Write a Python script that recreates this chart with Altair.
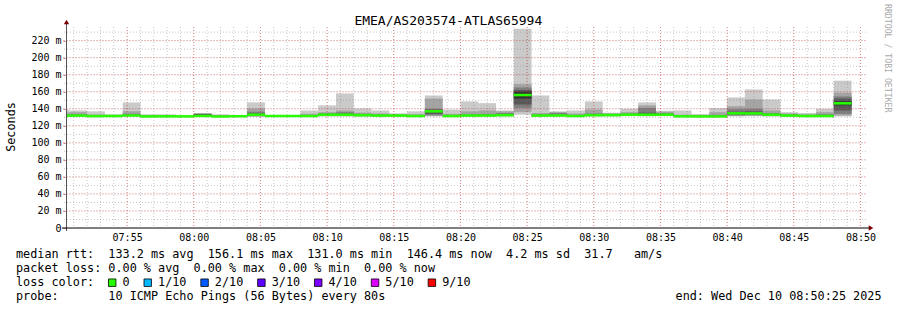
import altair as alt
import pandas as pd

# ---------------- text content ----------------
TITLE = "EMEA/AS203574-ATLAS65994"
Y_TITLE = "Seconds"
WATERMARK = "RRDTOOL / TOBI OETIKER"

# ---------------- time axis (seconds after 07:50:25, window is 3600 s) ----------------
WINDOW = 3600
STEP = 80                 # one probe round every 80 s
FIRST_STEP_START = -65    # 07:49:20, first (partly visible) round
x_tick_labels = ["07:55", "08:00", "08:05", "08:10", "08:15", "08:20",
                 "08:25", "08:30", "08:35", "08:40", "08:45", "08:50"]
y_tick_values = [0, 20, 40, 60, 80, 100, 120, 140, 160, 180, 200, 220]

# ---------------- sorted ping RTTs (ms) of each 80 s round, rank 1 (fastest) .. 10 ----------------
rtt_1 = [130.8, 130.9, 130.6, 130.8, 130.9, 130.4, 130.5, 130.6, 130.8, 130.4, 130.6, 130.8, 130.9, 130.9, 130.8,
         131.0, 131.0, 130.8, 130.8, 130.9, 130.7, 130.9, 130.8, 130.9, 130.9, 131.0, 133.0, 130.9, 131.0, 130.8,
         131.0, 131.0, 131.3, 131.0, 131.3, 130.5, 130.3, 130.3, 131.0, 131.2, 131.0, 130.8, 130.7, 130.7, 131.0]
rtt_2 = [131.0, 131.1, 130.8, 130.9, 131.1, 130.5, 130.6, 130.7, 131.0, 130.5, 130.7, 131.0, 131.0, 131.0, 131.0,
         131.4, 131.3, 131.1, 131.0, 131.1, 130.9, 131.5, 131.0, 131.1, 131.1, 131.3, 136.0, 131.1, 131.2, 131.0,
         131.3, 131.4, 131.7, 131.5, 131.7, 130.6, 130.4, 130.4, 131.5, 131.8, 131.4, 131.1, 130.9, 130.9, 132.0]
rtt_3 = [131.2, 131.3, 131.0, 131.1, 131.4, 130.7, 130.8, 130.8, 131.2, 130.7, 130.8, 131.3, 131.1, 131.1, 131.2,
         131.8, 131.8, 131.5, 131.3, 131.3, 131.1, 132.5, 131.1, 131.4, 131.4, 131.6, 141.0, 131.4, 131.5, 131.2,
         131.7, 131.8, 132.1, 132.0, 132.1, 130.8, 130.6, 130.6, 132.3, 132.5, 131.8, 131.4, 131.1, 131.1, 134.0]
rtt_4 = [131.5, 131.6, 131.2, 131.3, 131.7, 130.8, 130.9, 130.9, 131.4, 130.8, 130.9, 131.6, 131.3, 131.3, 131.3,
         132.3, 132.3, 131.9, 131.6, 131.6, 131.3, 134.0, 131.3, 131.7, 131.7, 132.0, 145.0, 131.7, 131.8, 131.3,
         132.0, 132.2, 132.5, 132.4, 132.5, 130.9, 130.8, 130.8, 133.0, 133.3, 132.3, 131.7, 131.3, 131.3, 138.0]
rtt_5 = [131.8, 131.8, 131.3, 131.4, 131.9, 130.9, 131.0, 131.0, 131.5, 130.9, 131.0, 132.6, 131.4, 131.4, 131.4,
         132.7, 132.8, 132.3, 131.9, 131.9, 131.4, 136.5, 131.4, 131.9, 131.9, 132.3, 152.0, 131.9, 132.0, 131.4,
         132.3, 132.4, 132.8, 132.8, 132.8, 131.0, 130.9, 130.9, 134.0, 134.0, 132.7, 131.9, 131.4, 131.4, 144.0]
rtt_6 = [132.0, 132.1, 131.5, 131.6, 132.2, 131.1, 131.2, 131.1, 131.7, 131.1, 131.2, 133.4, 131.6, 131.6, 131.6,
         133.3, 133.2, 132.7, 132.1, 132.1, 131.6, 137.5, 131.6, 132.2, 132.2, 132.7, 160.2, 132.2, 132.2, 131.6,
         132.7, 132.8, 133.2, 133.2, 133.2, 131.2, 131.1, 131.1, 135.2, 135.0, 133.3, 132.1, 131.6, 131.6, 148.8]
rtt_7 = [132.4, 132.6, 131.8, 131.8, 132.8, 131.4, 131.5, 131.3, 133.8, 131.4, 131.4, 134.5, 131.7, 131.8, 131.9,
         133.9, 134.2, 133.2, 132.5, 132.4, 131.9, 139.0, 131.9, 132.6, 132.7, 133.5, 162.0, 132.6, 132.6, 131.9,
         133.3, 133.2, 133.6, 135.4, 133.8, 131.5, 131.4, 131.5, 136.5, 137.0, 133.9, 132.5, 131.9, 132.0, 152.0]
rtt_8 = [133.2, 133.5, 132.3, 132.1, 134.0, 131.9, 132.0, 131.5, 134.2, 131.9, 131.7, 136.5, 131.9, 132.0, 132.5,
         134.6, 136.0, 134.0, 133.0, 132.9, 132.4, 140.0, 132.4, 133.5, 134.0, 135.0, 165.0, 133.3, 135.0, 132.6,
         134.5, 133.8, 134.4, 141.0, 135.0, 132.0, 131.9, 132.8, 139.5, 140.0, 135.0, 133.2, 132.5, 133.5, 154.5]
rtt_9 = [135.5, 136.0, 133.2, 132.6, 137.0, 132.6, 132.7, 131.8, 134.5, 132.6, 132.1, 140.4, 132.2, 132.3, 134.0,
         136.0, 138.0, 135.5, 134.5, 133.6, 133.5, 152.0, 134.0, 137.0, 138.0, 137.0, 169.0, 135.0, 136.0, 134.5,
         139.0, 134.6, 136.0, 144.0, 136.5, 133.0, 132.6, 136.0, 143.0, 151.0, 138.0, 134.5, 133.5, 136.0, 159.0]
rtt_10 = [139.0, 138.0, 137.0, 133.5, 147.5, 133.5, 133.5, 132.0, 134.6, 133.5, 132.5, 147.5, 132.5, 132.6, 138.0,
          144.0, 158.0, 140.4, 138.0, 134.6, 137.0, 155.6, 139.0, 148.6, 146.6, 138.0, 234.0, 155.6, 137.0, 138.0,
          148.6, 135.4, 140.0, 147.5, 137.7, 138.0, 133.8, 140.8, 153.3, 162.7, 151.0, 136.0, 135.0, 140.0, 173.0]
# packet loss per round (0.00 % max over the window -> no loss anywhere)
loss = [0] * 45

ranks = [rtt_1, rtt_2, rtt_3, rtt_4, rtt_5, rtt_6, rtt_7, rtt_8, rtt_9, rtt_10]
for r in ranks:
    assert len(r) == 45, len(r)

# ---------------- legend / stats text ----------------
stats_rtt = "median rtt:  133.2 ms avg  156.1 ms max  131.0 ms min  146.4 ms now  4.2 ms sd  31.7   am/s"
stats_loss = "packet loss: 0.00 % avg  0.00 % max  0.00 % min  0.00 % now"
loss_labels = ["0", "1/10", "2/10", "3/10", "4/10", "5/10", "9/10"]
loss_colors = ["#26ff00", "#00b8ff", "#0059ff", "#5e00ff", "#7e00ff", "#dd00ff", "#ff0000"]
probe_text = "probe:       10 ICMP Echo Pings (56 Bytes) every 80s"
end_text = "end: Wed Dec 10 08:50:25 2025"

# ---------------- layout constants ----------------
PAD_L, PAD_T, W, H = 66, 27, 800, 201
PAD_R, PAD_B = 897 - PAD_L - W, 310 - PAD_T - H
Y_MAX = 236
MONO = "DejaVu Sans Mono"
FOOT_FS = 11.8
CW = 0.60205 * FOOT_FS           # monospace advance
FOOT_X = 16 - PAD_L
FOOT_BASE = [258.4 - PAD_T, 272.3 - PAD_T, 286.2 - PAD_T, 300.1 - PAD_T]
GREYS = ["#cacaca", "#a4a4a4", "#7e7e7e", "#585858", "#323232"]
NBSP = "\u00a0"

def keep_spaces(s):
    return s.replace(" ", NBSP)

xs = alt.Scale(domain=[0, WINDOW], nice=False, zero=False)
ys = alt.Scale(domain=[0, Y_MAX], nice=False)

# ---------------- smoke table ----------------
rows, med_rows = [], []
for i in range(45):
    t0 = FIRST_STEP_START + STEP * i
    t1 = t0 + STEP
    for k in range(5):
        rows.append({"t0": t0, "t1": t1, "lo": ranks[k][i], "hi": ranks[9 - k][i], "band": k})
    med = (rtt_5[i] + rtt_6[i]) / 2
    med_rows.append({"t0": t0, "t1": t1, "lo": med - 1.5, "hi": med + 1.5,
                     "loss": loss_labels[min(loss[i], 6)]})
smoke_df = pd.DataFrame(rows)
med_df = pd.DataFrame(med_rows)

tick_vals = []
for lab in x_tick_labels:
    hh, mm = lab.split(":")
    tick_vals.append((int(hh) * 3600 + int(mm) * 60) - (7 * 3600 + 50 * 60 + 25))
label_arr = "[" + ",".join("'%s'" % s for s in x_tick_labels) + "]"
x_label_expr = "%s[round((datum.value - %d) / 300)]" % (label_arr, tick_vals[0])

XAX = alt.Axis(values=tick_vals, labelExpr=x_label_expr, grid=False, domain=False, ticks=False,
               title=None, labelFont=MONO, labelFontSize=10, labelColor="#000000", labelPadding=4,
               labelOverlap=False, labelFlush=False)
YAX = alt.Axis(values=y_tick_values, labelExpr="datum.value == 0 ? '0' : datum.value + '" + NBSP + "m'",
               grid=False, domain=False, ticks=True, tickSize=3, tickColor="#e09090", title=None,
               labelFont=MONO, labelFontSize=10, labelColor="#000000", labelPadding=2)

smoke = alt.Chart(smoke_df).mark_rect(clip=True).encode(
    x=alt.X("t0:Q", scale=xs, axis=XAX, title=None),
    x2="t1:Q",
    y=alt.Y("lo:Q", scale=ys, axis=YAX, title=None),
    y2="hi:Q",
    color=alt.Color("band:O", scale=alt.Scale(domain=[0, 1, 2, 3, 4], range=GREYS), legend=None),
    order=alt.Order("band:Q"),
)

median = alt.Chart(med_df).mark_rect(clip=True).encode(
    x=alt.X("t0:Q", scale=xs, axis=XAX, title=None), x2="t1:Q",
    y=alt.Y("lo:Q", scale=ys, axis=YAX, title=None), y2="hi:Q",
    color=alt.Color("loss:N", scale=alt.Scale(domain=loss_labels, range=loss_colors), legend=None),
)

# grid (drawn on top, semi transparent like rrdtool)
minor_x = pd.DataFrame({"t0": [35 + 60 * j for j in range(60)]})
major_x = pd.DataFrame({"t0": tick_vals})
minor_y = pd.DataFrame({"lo": [10 * j for j in range(1, 24)]})
major_y = pd.DataFrame({"lo": y_tick_values[1:]})

def vgrid(df, color, op):
    return alt.Chart(df).mark_rule(strokeDash=[1, 2], color=color, opacity=op, strokeWidth=1).encode(
        x=alt.X("t0:Q", scale=xs, axis=XAX, title=None), y=alt.value(0), y2=alt.value(H))

def hgrid(df, color, op, x0):
    return alt.Chart(df).mark_rule(strokeDash=[1, 2], color=color, opacity=op, strokeWidth=1).encode(
        y=alt.Y("lo:Q", scale=ys, axis=YAX, title=None), x=alt.value(x0), x2=alt.value(W))

grid = [vgrid(minor_x, "#808080", 0.45), hgrid(minor_y, "#808080", 0.45, -2),
        vgrid(major_x, "#ff0000", 0.35), hgrid(major_y, "#ff0000", 0.35, -3)]

one = alt.Data(values=[{"a": 1}])
y_axis_line = alt.Chart(one).mark_rule(color="#555555", strokeWidth=1).encode(
    x=alt.value(0.5), y=alt.value(-5), y2=alt.value(H + 3))
x_axis_line = alt.Chart(one).mark_rule(color="#000000", strokeWidth=1).encode(
    x=alt.value(-4), x2=alt.value(W + 4), y=alt.value(H))
arrow_up = alt.Chart(one).mark_point(shape="triangle-up", filled=True, color="#7f0000", size=28, opacity=1).encode(
    x=alt.value(0.5), y=alt.value(-5))
arrow_right = alt.Chart(one).mark_point(shape="triangle-right", filled=True, color="#7f0000", size=28, opacity=1).encode(
    x=alt.value(W + 5), y=alt.value(H))

# texts
title = alt.Chart(one).mark_text(font=MONO, fontSize=13, align="center", baseline="alphabetic", color="#000000").encode(
    x=alt.value(448.3 - PAD_L), y=alt.value(24.7 - PAD_T), text=alt.value(TITLE))
ytitle = alt.Chart(one).mark_text(font=MONO, fontSize=11.8, align="center", baseline="middle", angle=270,
                                  color="#000000").encode(
    x=alt.value(11 - PAD_L), y=alt.value(127 - PAD_T), text=alt.value(Y_TITLE))
wmark = alt.Chart(one).mark_text(font=MONO, fontSize=8.2, align="left", baseline="middle", angle=90,
                                 color="#aaaaaa").encode(
    x=alt.value(886.5 - PAD_L), y=alt.value(4 - PAD_T), text=alt.value(keep_spaces(WATERMARK)))

# loss colour line: text with gaps where the colour boxes go
line3 = "loss color:  "
box_idx = []
for lab in loss_labels:
    box_idx.append(len(line3))
    line3 += "  " + lab + "  "
line3 = line3.rstrip()
foot_df = pd.DataFrame({
    "text": [keep_spaces(s) for s in [stats_rtt, stats_loss, line3, probe_text]],
    "px": [FOOT_X] * 4,
    "py": FOOT_BASE,
})
footer = alt.Chart(foot_df).mark_text(font=MONO, fontSize=FOOT_FS, align="left", baseline="alphabetic",
                                      color="#000000").encode(
    x=alt.X("px:Q", scale=None), y=alt.Y("py:Q", scale=None), text="text:N")
end_lbl = alt.Chart(one).mark_text(font=MONO, fontSize=FOOT_FS, align="right", baseline="alphabetic",
                                   color="#000000").encode(
    x=alt.value(881.5 - PAD_L), y=alt.value(FOOT_BASE[3]), text=alt.value(keep_spaces(end_text)))
box_df = pd.DataFrame({
    "loss": loss_labels,
    "px": [FOOT_X + (b + 0.5) * CW + 0.3 for b in box_idx],
    "py": [282.7 - PAD_T] * len(loss_labels),
})
boxes = alt.Chart(box_df).mark_square(size=56, opacity=1, stroke="#000000", strokeWidth=0.8, filled=True).encode(
    x=alt.X("px:Q", scale=None), y=alt.Y("py:Q", scale=None),
    fill=alt.Fill("loss:N", scale=alt.Scale(domain=loss_labels, range=loss_colors), legend=None))

chart = alt.layer(
    smoke, median, *grid, y_axis_line, x_axis_line, arrow_up, arrow_right,
    title, ytitle, wmark, footer, end_lbl, boxes,
).resolve_scale(color="independent").properties(
    width=W, height=H,
    padding={"left": PAD_L, "top": PAD_T, "right": PAD_R, "bottom": PAD_B},
    autosize=alt.AutoSizeParams(type="none"),
    background="#ffffff",
).configure_view(stroke=None)

chart.save("out.html", embed_options={"renderer": "svg", "actions": False})
